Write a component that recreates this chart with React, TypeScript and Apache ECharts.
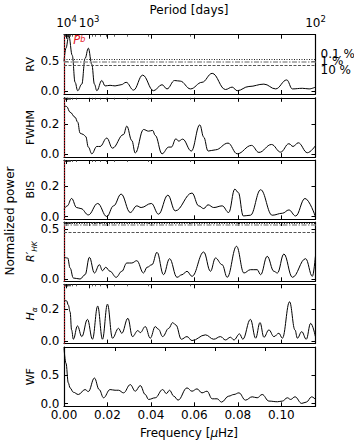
import React, { useEffect, useRef } from "react";
import * as echarts from "echarts";

const FONT = "'DejaVu Sans', sans-serif";
const DAY_TO_UHZ = 11.574; // f[μHz] = 11.574 / P[days]
const FREQ_MAX = DAY_TO_UHZ / 100;
const PB_FREQ = 0.0029;

// ---- data: [frequency μHz, normalized power] ----
const rvData = [
  [0, 0.5], [0.0009, 0.72], [0.0022, 0.93], [0.0038, 0.6], [0.0051, 0.15], [0.0063, 0.01],
  [0.0082, 0.12], [0.0097, 0.55], [0.0112, 0.72], [0.0128, 0.45], [0.014, 0.12], [0.0151, 0.01],
  [0.0174, 0.18], [0.0189, 0.09], [0.0212, 0.1], [0.0235, 0.09], [0.0263, 0.11], [0.0286, 0.15],
  [0.032, 0.02], [0.0362, 0.27], [0.0412, 0.01], [0.0451, 0.11], [0.0474, 0.04], [0.0509, 0.18],
  [0.0535, 0.17], [0.0582, 0.04], [0.0635, 0.15], [0.0682, 0.3], [0.0743, 0.03], [0.0774, 0.07],
  [0.0797, 0.01], [0.0851, 0.08], [0.092, 0.12], [0.0974, 0.04], [0.1025, 0.19], [0.1051, 0.04],
  [0.1097, 0.05], [0.1128, 0.04], [0.1157, 0.07],
];
const fwhmData = [
  [0, 0.32], [0.0012, 0.313], [0.0028, 0.276], [0.0051, 0.243], [0.0063, 0.211], [0.0074, 0.139],
  [0.0089, 0.13], [0.01, 0.117], [0.0112, 0.048], [0.0128, 0.004], [0.0151, 0.052], [0.0166, 0.052],
  [0.0197, 0.107], [0.0223, 0.041], [0.0274, 0.13], [0.0289, 0.185], [0.0312, 0.091], [0.0328, 0.009],
  [0.0366, 0.163], [0.0389, 0.152], [0.0408, 0.157], [0.042, 0.124], [0.0451, 0.004], [0.0482, 0.048],
  [0.0494, 0.048], [0.0515, 0.102], [0.0528, 0.087], [0.0546, 0.1], [0.0586, 0.022], [0.0625, 0.193],
  [0.0643, 0.113], [0.0663, 0.022], [0.0697, 0.03], [0.0755, 0.074], [0.0797, 0.004], [0.0863, 0.059],
  [0.0897, 0.013], [0.0955, 0.065], [0.0997, 0.015], [0.1035, 0.07], [0.1054, 0.052], [0.1078, 0.076],
  [0.112, 0.011], [0.1157, 0.057],
];
const bisData = [
  [0, 0.049], [0.0015, 0.071], [0.0035, 0.12], [0.0058, 0.06], [0.0078, 0.053], [0.0112, 0.011],
  [0.0155, 0.087], [0.0197, 0.0], [0.0228, 0.071], [0.0263, 0.149], [0.0305, 0.027], [0.0335, 0.071],
  [0.0355, 0.06], [0.0402, 0.087], [0.0435, 0.016], [0.0478, 0.142], [0.0512, 0.038], [0.0589, 0.156],
  [0.062, 0.071], [0.0643, 0.053], [0.0663, 0.078], [0.0689, 0.06], [0.0728, 0.071], [0.0758, 0.027],
  [0.0786, 0.182], [0.0802, 0.16], [0.0825, 0.004], [0.0858, 0.009], [0.0905, 0.178], [0.0958, 0.009],
  [0.1005, 0.022], [0.1035, 0.044], [0.1066, 0.004], [0.1109, 0.12], [0.1157, 0.0],
];
const rhkData = [
  [0, 0.217], [0.0017, 0.21], [0.0028, 0.11], [0.0043, 0.01], [0.0074, 0.0], [0.0097, 0.043],
  [0.0117, 0.217], [0.014, 0.06], [0.0163, 0.143], [0.0177, 0.083], [0.0192, 0.117], [0.0212, 0.077],
  [0.024, 0.017], [0.0266, 0.077], [0.0289, 0.16], [0.0312, 0.16], [0.0335, 0.183], [0.0366, 0.06],
  [0.0382, 0.117], [0.0405, 0.143], [0.0428, 0.267], [0.0458, 0.043], [0.0486, 0.203], [0.052, 0.017],
  [0.0543, 0.043], [0.0566, 0.077], [0.0589, 0.027], [0.0643, 0.27], [0.0674, 0.077], [0.0697, 0.21],
  [0.0728, 0.143], [0.0751, 0.017], [0.0794, 0.327], [0.0828, 0.06], [0.0858, 0.093], [0.0889, 0.093],
  [0.0905, 0.043], [0.0935, 0.227], [0.0966, 0.077], [0.0982, 0.06], [0.1012, 0.25], [0.1051, 0.017],
  [0.1112, 0.203], [0.1143, 0.027], [0.1157, 0.227],
];
const haData = [
  [0, 0.258], [0.0012, 0.254], [0.002, 0.227], [0.0028, 0.185], [0.0035, 0.071], [0.0043, 0.0125],
  [0.0062, 0.096], [0.0082, 0.029], [0.0108, 0.1375], [0.0131, 0.0125], [0.0155, 0.221], [0.0177, 0.0125],
  [0.02, 0.233], [0.0223, 0.019], [0.0251, 0.081], [0.0266, 0.05], [0.0294, 0.144], [0.0315, 0.029],
  [0.034, 0.067], [0.0351, 0.054], [0.0374, 0.092], [0.0397, 0.019], [0.042, 0.092], [0.0435, 0.075],
  [0.0454, 0.029], [0.0482, 0.081], [0.05, 0.117], [0.0515, 0.102], [0.054, 0.0125], [0.0566, 0.029],
  [0.0589, 0.004], [0.0651, 0.04], [0.0689, 0.0125], [0.072, 0.029], [0.0743, 0.008], [0.0766, 0.025],
  [0.0782, 0.008], [0.0808, 0.046], [0.0823, 0.0125], [0.0858, 0.1375], [0.0882, 0.019], [0.0902, 0.117],
  [0.092, 0.025], [0.0943, 0.071], [0.0966, 0.029], [0.0989, 0.05], [0.1005, 0.019], [0.1038, 0.248],
  [0.1063, 0.071], [0.1074, 0.019], [0.1094, 0.06], [0.1115, 0.0125], [0.1135, 0.1125], [0.1157, 0.029],
];
const wfData = [
  [0, 0.98], [0.0009, 0.715], [0.002, 0.366], [0.0028, 0.279], [0.0043, 0.203], [0.0066, 0.163],
  [0.0097, 0.25], [0.0112, 0.215], [0.014, 0.453], [0.0162, 0.25], [0.0182, 0.105], [0.0212, 0.25],
  [0.0235, 0.238], [0.0251, 0.238], [0.0274, 0.192], [0.0305, 0.337], [0.0328, 0.221], [0.0351, 0.32],
  [0.0374, 0.163], [0.0389, 0.076], [0.042, 0.105], [0.0454, 0.25], [0.0471, 0.18], [0.0486, 0.238],
  [0.0505, 0.134], [0.0525, 0.064], [0.0566, 0.279], [0.0589, 0.221], [0.0612, 0.262], [0.0635, 0.192],
  [0.0658, 0.221], [0.0682, 0.087], [0.0705, 0.087], [0.0725, 0.029], [0.0758, 0.134], [0.0782, 0.163],
  [0.0805, 0.192], [0.0835, 0.064], [0.0866, 0.122], [0.0889, 0.105], [0.0912, 0.163], [0.0943, 0.047],
  [0.0982, 0.035], [0.1005, 0.047], [0.1028, 0.105], [0.1043, 0.076], [0.1063, 0.122], [0.1094, 0.006],
  [0.1115, 0.029], [0.114, 0.122], [0.1157, 0.076],
];

const panelNames = ["RV", "FWHM", "BIS", "{i|R′}{s|HK}", "{i|H}{s|α}", "WF"];
const panelData = [rvData, fwhmData, bisData, rhkData, haData, wfData];
const yMins = [-0.045, -0.0175, -0.018, -0.023, -0.015, -0.045];
const yMaxs = [0.945, 0.37, 0.375, 0.57, 0.358, 1.0];
const yTickValues = [[0, 0.5], [0, 0.2], [0, 0.2], [0, 0.5], [0, 0.2], [0, 0.5]];
const xTickValues = [0, 0.02, 0.04, 0.06, 0.08, 0.1];
const periodMajorDays = [1e5, 1e4, 1e3, 1e2];
const periodLabelDays = [1e4, 1e3, 1e2];
const periodMinorDays = [
  2e4, 3e4, 4e4, 5e4, 6e4, 7e4, 8e4, 9e4,
  2e3, 3e3, 4e3, 5e3, 6e3, 7e3, 8e3, 9e3,
  200, 300, 400, 500, 600, 700, 800, 900,
];
const wfTopTicks = [0.0235, 0.0466, 0.0696, 0.0927];
const rvFapLevels = [0.537, 0.489, 0.435];
const rhkFapLevels = [0.556, 0.537, 0.47];
const fapLabels = ["0.1 %", "1 %", "10 %"];

// ---- layout / style ----
const GRID_TOPS = [34.7, 97.8, 160, 222, 284.3, 347];
const GRID_H = 59.3;
const GRID_LEFT = 64;
const GRID_W = 251.5;
const TICK_FS = 12;
const fapStyles = [
  { color: "#222", type: [1, 1.5], width: 1 },
  { color: "#999", type: [5, 1.5, 1.5, 1.5], width: 1.5 },
  { color: "#555", type: [3, 1.5], width: 1 },
];
const fapLabelOffsets = [-5.5, -1, 4.5];

function buildOption() {
  const grid: any[] = [];
  const xAxis: any[] = [];
  const yAxis: any[] = [];
  const series: any[] = [];
  const toF = (p: number) => DAY_TO_UHZ / p;
  const lineSt = { color: "#000", width: 1.2 };
  const tickSt = { color: "#000", width: 1 };

  panelData.forEach((data, i) => {
    grid.push({ left: GRID_LEFT, top: GRID_TOPS[i], width: GRID_W, height: GRID_H, containLabel: false, outerBoundsMode: "none" });
    const baseX = { gridIndex: i, type: "value", min: 0, max: FREQ_MAX, splitLine: { show: false } };
    const bottomIdx = xAxis.length;
    xAxis.push({
      ...baseX, position: "bottom",
      axisLine: { show: true, onZero: false, lineStyle: lineSt },
      axisTick: { show: true, inside: true, length: 4, customValues: xTickValues, lineStyle: tickSt },
      axisLabel: {
        show: i === 5, customValues: xTickValues, formatter: (v: number) => v.toFixed(2),
        color: "#000", fontSize: TICK_FS, fontFamily: FONT, margin: 2.5,
      },
    });
    xAxis.push({
      ...baseX, position: "top",
      axisLine: { show: true, onZero: false, lineStyle: lineSt },
      axisTick: { show: true, inside: true, length: 4, customValues: i < 5 ? xTickValues : wfTopTicks, lineStyle: tickSt },
      axisLabel: { show: false },
    });
    if (i < 5) {
      xAxis.push({
        ...baseX, position: "top",
        axisLine: { show: false, onZero: false },
        axisTick: { show: true, inside: true, length: 4, customValues: periodMajorDays.map(toF), lineStyle: tickSt },
        axisLabel: {
          show: i === 0, customValues: periodLabelDays.map(toF), margin: 3, hideOverlap: false,
          showMinLabel: true, showMaxLabel: true,
          formatter: (v: number) => `{b|10}{p|${Math.round(Math.log10(DAY_TO_UHZ / v))}}`,
          rich: {
            b: { fontSize: TICK_FS, fontFamily: FONT, color: "#000", lineHeight: 17 },
            p: { fontSize: 8.5, fontFamily: FONT, color: "#000", lineHeight: 12, verticalAlign: "top" },
          },
        },
      });
      xAxis.push({
        ...baseX, position: "top",
        axisLine: { show: false, onZero: false },
        axisTick: { show: true, inside: true, length: 2, customValues: periodMinorDays.map(toF), lineStyle: { color: "#333", width: 0.8 } },
        axisLabel: { show: false },
      });
    }
    const baseY = { gridIndex: i, type: "value", min: yMins[i], max: yMaxs[i], splitLine: { show: false } };
    const leftIdx = yAxis.length;
    yAxis.push({
      ...baseY, position: "left",
      axisLine: { show: true, onZero: false, lineStyle: lineSt },
      axisTick: { show: true, inside: true, length: 4, customValues: yTickValues[i], lineStyle: tickSt },
      axisLabel: {
        customValues: yTickValues[i], formatter: (v: number) => v.toFixed(1),
        color: "#000", fontSize: TICK_FS, fontFamily: FONT, margin: 4.5,
      },
      name: panelNames[i], nameLocation: "middle", nameRotate: 90, nameGap: 26, nameMoveOverlap: false,
      nameTextStyle: {
        color: "#000", fontSize: 11, fontFamily: FONT, lineHeight: 15,
        rich: {
          i: { fontStyle: "italic", fontSize: 11, fontFamily: FONT, color: "#000", lineHeight: 15 },
          s: { fontStyle: "italic", fontSize: 7.5, fontFamily: FONT, color: "#000", lineHeight: 9, verticalAlign: "bottom" },
        },
      },
    });
    yAxis.push({
      ...baseY, position: "right",
      axisLine: { show: true, onZero: false, lineStyle: lineSt },
      axisTick: { show: true, inside: true, length: 4, customValues: yTickValues[i], lineStyle: tickSt },
      axisLabel: { show: false },
    });

    const mlData: any[] = [];
    if (i < 5) mlData.push({ xAxis: PB_FREQ, lineStyle: { color: "#e3121b", type: [1.2, 1.5], width: 1 } });
    if (i === 0) rvFapLevels.forEach((lv, k) => mlData.push({ yAxis: lv, lineStyle: fapStyles[k] }));
    if (i === 3) rhkFapLevels.forEach((lv, k) => mlData.push({ yAxis: lv, lineStyle: fapStyles[k] }));

    const mpData: any[] = [];
    if (i === 0) {
      mpData.push({
        coord: [PB_FREQ, yMaxs[0]],
        label: {
          show: true, position: [3.5, 0], formatter: "{p|P}{b|b}",
          rich: {
            p: { fontStyle: "italic", fontSize: 11.5, fontFamily: FONT, color: "#e3121b", lineHeight: 9, verticalAlign: "top" },
            b: { fontStyle: "italic", fontSize: 8, fontFamily: FONT, color: "#e3121b", lineHeight: 7, verticalAlign: "bottom" },
          },
        },
      });
      rvFapLevels.forEach((lv, k) => mpData.push({
        coord: [FREQ_MAX, lv],
        label: {
          show: true, position: "right", distance: 4.5, offset: [0, fapLabelOffsets[k]],
          formatter: fapLabels[k], color: "#000", fontSize: TICK_FS, fontFamily: FONT,
        },
      }));
    }

    series.push({
      type: "line", xAxisIndex: bottomIdx, yAxisIndex: leftIdx, data,
      showSymbol: false, symbol: "none", smooth: 0.4, smoothMonotone: "x",
      lineStyle: { color: "#000", width: 1 }, itemStyle: { color: "#000" }, silent: true,
      markLine: mlData.length ? { silent: true, symbol: ["none", "none"], label: { show: false }, data: mlData } : undefined,
      markPoint: mpData.length ? {
        silent: true, symbol: "rect", symbolSize: 1, itemStyle: { color: "rgba(0,0,0,0)" }, data: mpData,
      } : undefined,
    });
  });

  return {
    animation: false,
    backgroundColor: "#fff",
    textStyle: { fontFamily: FONT },
    grid, xAxis, yAxis, series,
    graphic: [
      { type: "text", x: 189, y: 9.5, style: { text: "Period [days]", fontSize: 12, fontFamily: FONT, fill: "#000", align: "center", verticalAlign: "middle" } },
      {
        type: "text", x: 189, y: 433,
        style: {
          text: "Frequency [{m|μ}Hz]", fontSize: 12, fontFamily: FONT, fill: "#000", align: "center", verticalAlign: "middle",
          rich: { m: { fontStyle: "italic", fontSize: 12, fontFamily: FONT, fill: "#000" } },
        },
      },
      { type: "text", x: 10, y: 221, rotation: Math.PI / 2, style: { text: "Normalized power", fontSize: 12, fontFamily: FONT, fill: "#000", align: "center", verticalAlign: "middle" } },
    ],
  };
}

export default function App() {
  const ref = useRef<HTMLDivElement>(null);
  useEffect(() => {
    if (!ref.current) return;
    const chart = echarts.init(ref.current, null, { renderer: "svg" });
    chart.setOption(buildOption() as any);
    return () => chart.dispose();
  }, []);
  return <div ref={ref} style={{ position: "absolute", left: 0, top: 0, width: 354, height: 442, background: "#fff" }} />;
}
